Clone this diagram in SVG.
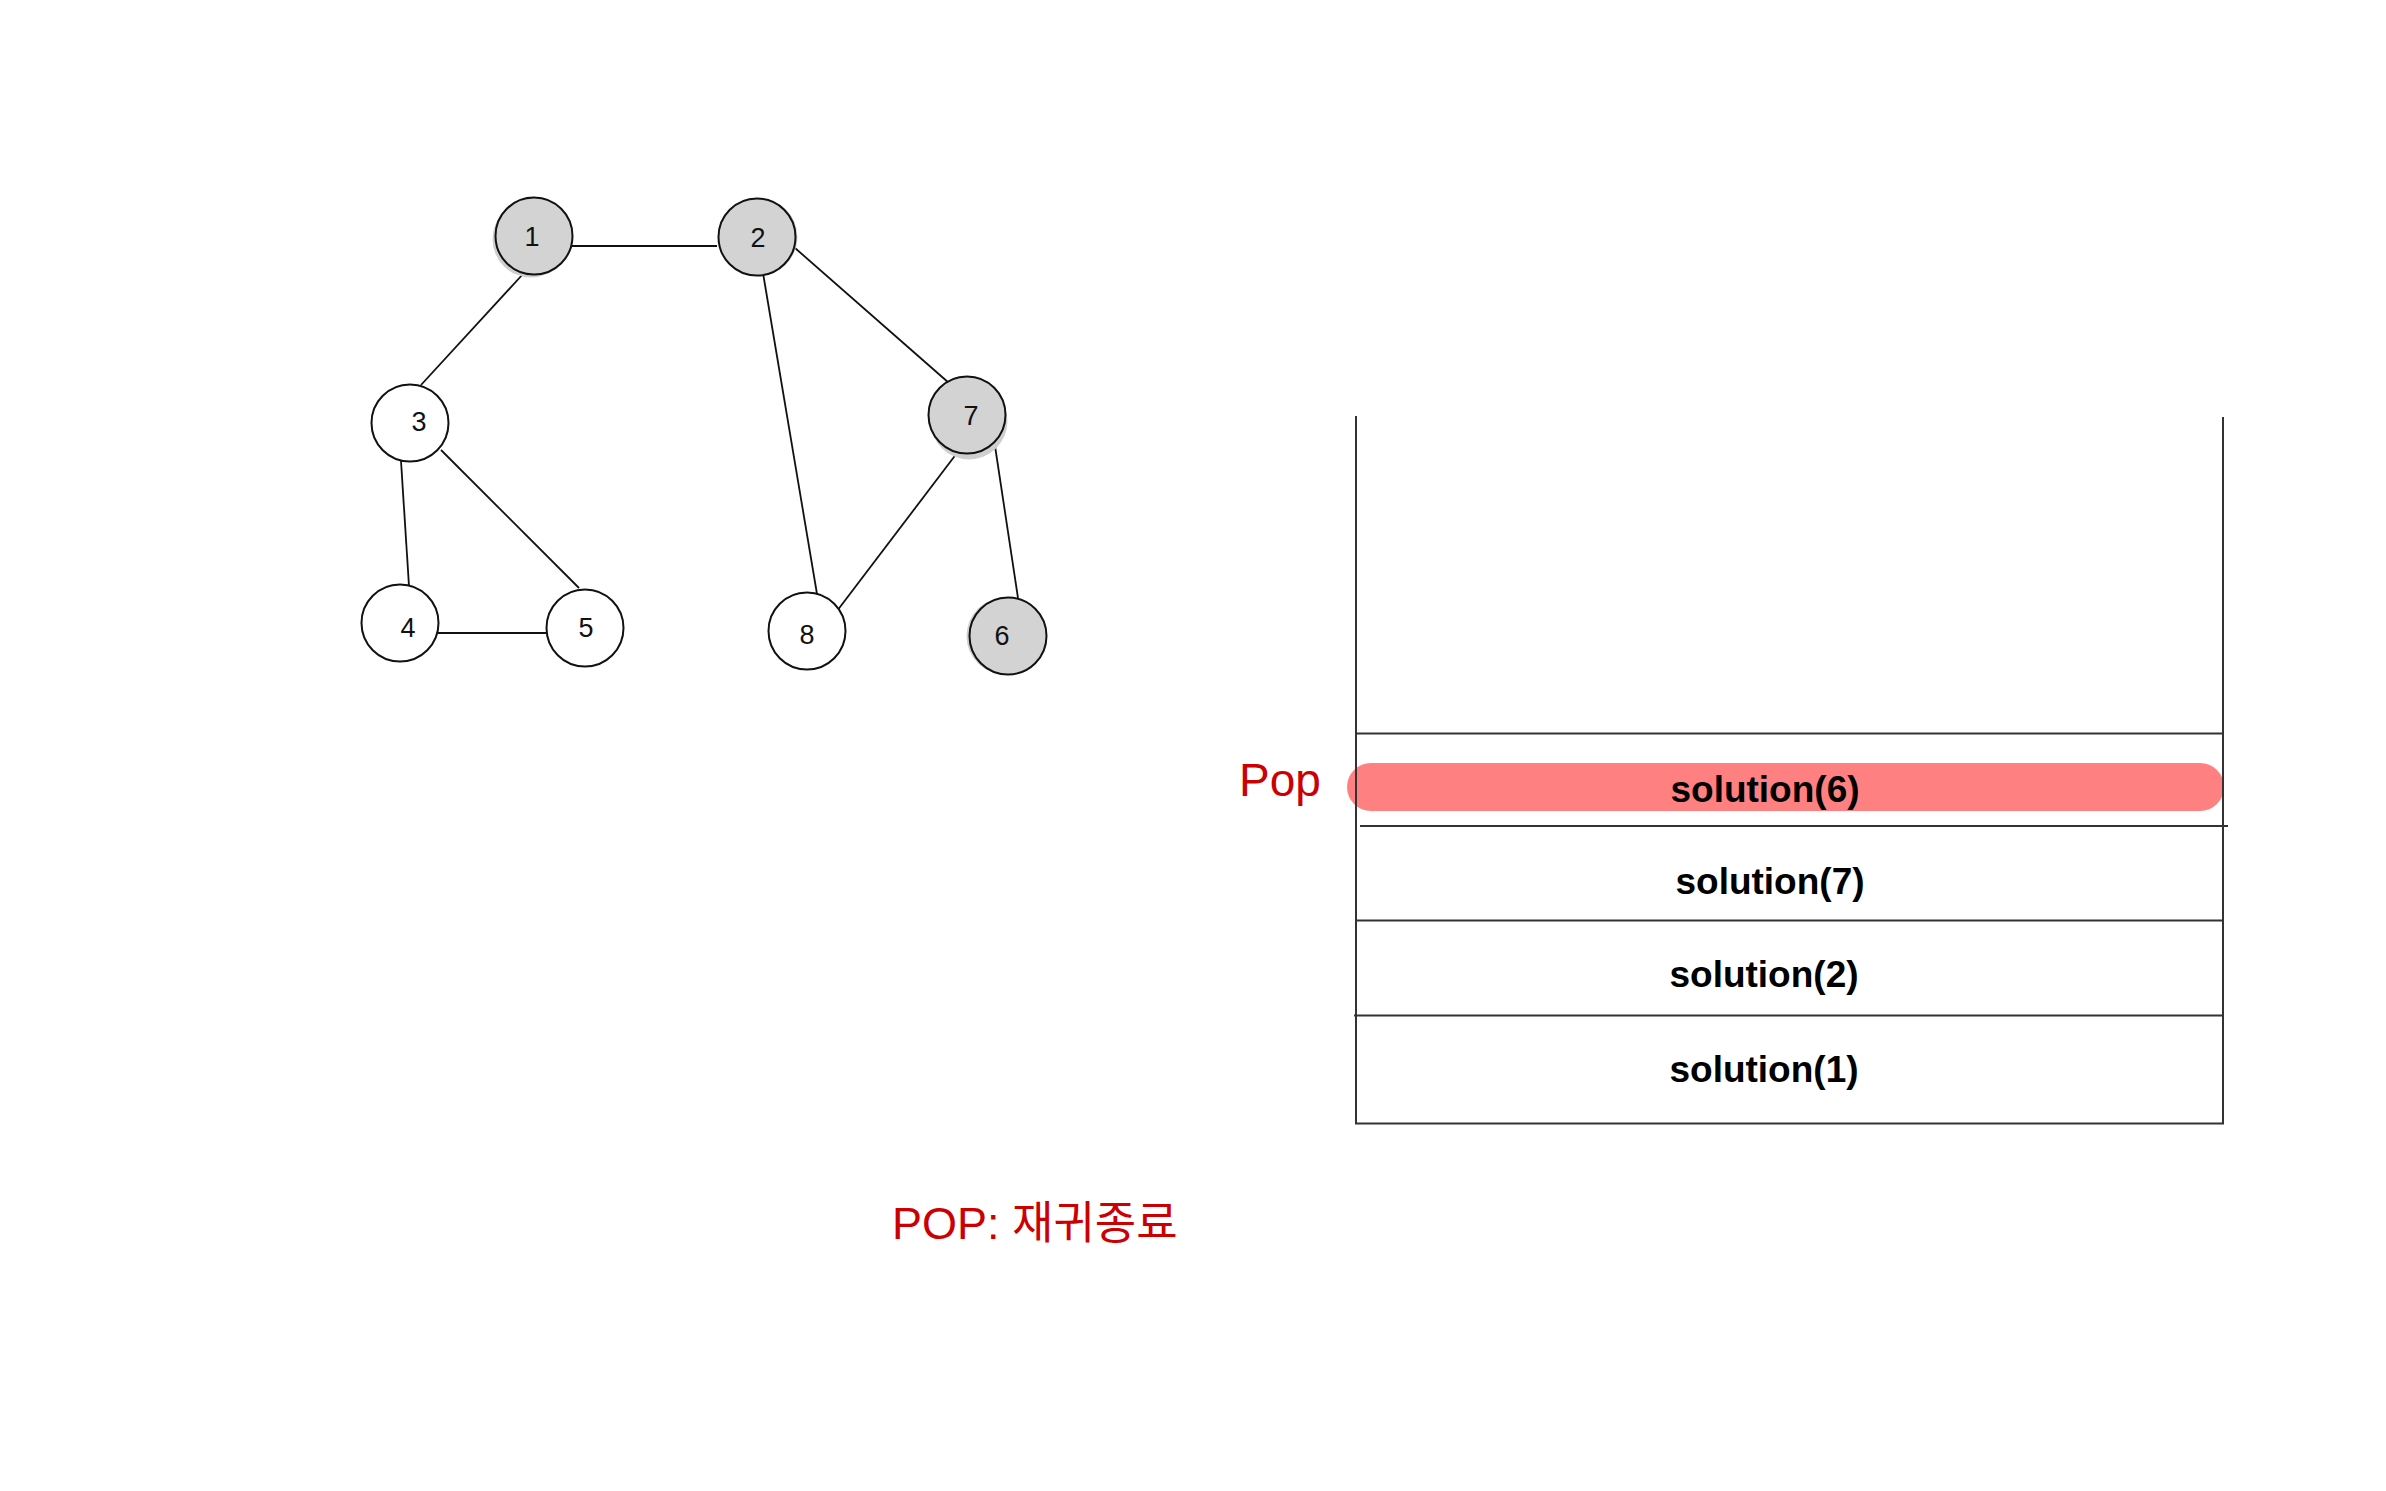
<svg xmlns="http://www.w3.org/2000/svg" width="2386" height="1491" viewBox="0 0 2386 1491">
<style>
.node{stroke:#111;stroke-width:2}
.gray{fill:#d3d3d3}
.white{fill:#fff}
.shadow{fill:#cfcfcf}
.lbl{font-family:"Liberation Sans",Arial,sans-serif;font-size:27px;fill:#111;text-anchor:middle}
.edge{stroke:#111;stroke-width:1.8;fill:none}
.stk{stroke:#333;stroke-width:2;fill:none}
.sol{font-family:"Liberation Sans",Arial,sans-serif;font-size:37px;font-weight:bold;fill:#000;text-anchor:middle}
.red{font-family:"Liberation Sans","Noto Sans CJK KR",sans-serif;fill:#cc0000}
</style>
<rect width="2386" height="1491" fill="#fff"/>
<g id="edges">
<line class="edge" x1="572" y1="246" x2="717" y2="246"/>
<line class="edge" x1="523" y1="274" x2="421" y2="385"/>
<line class="edge" x1="401" y1="461" x2="409" y2="586"/>
<line class="edge" x1="441" y1="450" x2="579" y2="588"/>
<line class="edge" x1="438" y1="633" x2="549" y2="633"/>
<line class="edge" x1="763" y1="273" x2="817" y2="594"/>
<line class="edge" x1="795" y1="248" x2="949" y2="383"/>
<line class="edge" x1="957" y1="453" x2="837" y2="611"/>
<line class="edge" x1="995" y1="446" x2="1018" y2="598"/>
</g>
<g id="node1"><circle class="shadow" cx="531" cy="239" r="38.5"/><circle class="node gray" cx="534" cy="236" r="38.5"/><text class="lbl" x="532" y="246">1</text></g>
<g id="node2"><circle class="shadow" cx="759" cy="237" r="38.5"/><circle class="node gray" cx="757" cy="237" r="38.5"/><text class="lbl" x="758" y="247">2</text></g>
<g id="node3"><circle class="node white" cx="410" cy="423" r="38.5"/><text class="lbl" x="419" y="431">3</text></g>
<g id="node4"><circle class="node white" cx="400" cy="623" r="38.5"/><text class="lbl" x="408" y="637">4</text></g>
<g id="node5"><circle class="node white" cx="585" cy="628" r="38.5"/><text class="lbl" x="586" y="637">5</text></g>
<g id="node7"><circle class="shadow" cx="969" cy="421" r="38.5"/><circle class="node gray" cx="967" cy="415" r="38.5"/><text class="lbl" x="971" y="425">7</text></g>
<g id="node8"><circle class="node white" cx="807" cy="631" r="38.5"/><text class="lbl" x="807" y="644">8</text></g>
<g id="node6"><circle class="shadow" cx="1005" cy="636" r="38.5"/><circle class="node gray" cx="1008" cy="636" r="38.5"/><text class="lbl" x="1002" y="645">6</text></g>
<g id="stack">
<rect x="1347" y="763" width="877" height="48" rx="24" fill="#ff8080"/>
<line class="stk" x1="1356" y1="416" x2="1356" y2="1124"/>
<line class="stk" x1="2223" y1="417" x2="2223" y2="1124"/>
<line class="stk" x1="1355" y1="1123.5" x2="2224" y2="1123.5"/>
<line class="stk" x1="1355" y1="733.5" x2="2223" y2="733.5"/>
<line class="stk" x1="1360" y1="826" x2="2228" y2="826"/>
<line class="stk" x1="1355" y1="920.5" x2="2222" y2="920.5"/>
<line class="stk" x1="1354" y1="1015.5" x2="2223" y2="1015.5"/>
<text class="sol" x="1765" y="802">solution(6)</text>
<text class="sol" x="1770" y="894">solution(7)</text>
<text class="sol" x="1764" y="987">solution(2)</text>
<text class="sol" x="1764" y="1082">solution(1)</text>
</g>
<text class="red" x="1239" y="796" font-size="46">Pop</text>
<text class="red" x="892" y="1239" font-size="45">POP: 재귀종료</text>
</svg>
